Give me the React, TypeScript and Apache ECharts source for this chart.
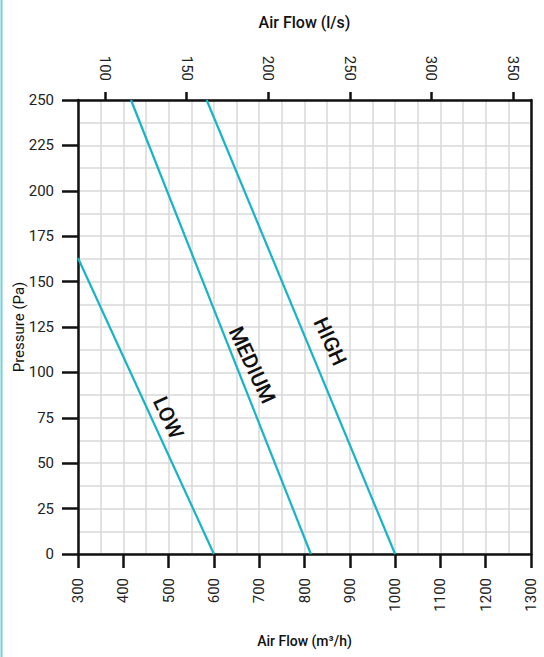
import React, { useEffect, useRef } from "react";
import * as echarts from "echarts";

const lowCurve: [number, number][] = [
  [300, 163],
  [600, 0],
];
const mediumCurve: [number, number][] = [
  [417, 250],
  [814, 0],
];
const highCurve: [number, number][] = [
  [584, 250],
  [1000, 0],
];
const curveLabels = [
  { name: "LOW", coord: [499, 75] },
  { name: "MEDIUM", coord: [684, 104] },
  { name: "HIGH", coord: [856, 117] },
];
const topTicksLs = [100, 150, 200, 250, 300, 350];
const M3H_PER_LS = 3.6;

const LINE_COLOR = "#17b3c6";
const FONT = "Roboto, 'Noto Sans', sans-serif";

export default function App() {
  const ref = useRef<HTMLDivElement>(null);
  useEffect(() => {
    if (!ref.current) return;
    const chart = echarts.init(ref.current, undefined, { renderer: "svg" });
    const mkSeries = (name: string, data: [number, number][], idx: number) => ({
      type: "line",
      name,
      data,
      xAxisIndex: 0,
      yAxisIndex: 0,
      symbol: "none",
      z: 10,
      lineStyle: { color: LINE_COLOR, width: 2.2 },
      markPoint: {
        symbol: "circle",
        symbolSize: 1,
        silent: true,
        itemStyle: { color: "rgba(0,0,0,0)" },
        label: {
          show: true,
          formatter: curveLabels[idx].name,
          rotate: -65,
          color: "#111",
          fontSize: 21,
          fontWeight: 500,
          fontFamily: FONT,
          position: "inside",
        },
        data: [
          {
            name: curveLabels[idx].name,
            coord: curveLabels[idx].coord,
            value: 1,
          },
        ],
      },
    });
    const numFmt = (v: number) => String(Math.round(v));
    chart.setOption({
      animation: false,
      textStyle: { fontFamily: FONT },
      graphic: [
        {
          type: "line",
          shape: { x1: 1.5, y1: 0, x2: 1.5, y2: 657 },
          style: { stroke: "#6fd0e0", lineWidth: 2 },
        },
      ],
      grid: {
        left: 78,
        right: 13,
        top: 100,
        bottom: 103,
        show: false,
        containLabel: false,
        outerBoundsMode: "none",
      },
      xAxis: [
        {
          type: "value",
          position: "bottom",
          min: 300,
          max: 1300,
          interval: 100,
          name: "Air Flow (m³/h)",
          nameLocation: "middle",
          nameGap: 80,
          nameTextStyle: { fontSize: 14, color: "#111", fontFamily: FONT, fontWeight: 500 },
          axisLine: { show: true, onZero: false, lineStyle: { color: "#111", width: 2.5 } },
          axisTick: { show: true, inside: false, length: 14, lineStyle: { color: "#111", width: 2.5 } },
          axisLabel: { rotate: 90, fontSize: 15, color: "#222", margin: 24, fontFamily: FONT, formatter: numFmt },
          splitLine: { show: true, lineStyle: { color: "#d9d9d9", width: 1.5 } },
          minorTick: { show: false, splitNumber: 2 },
          minorSplitLine: { show: true, lineStyle: { color: "#d9d9d9", width: 1.5 } },
        },
        {
          type: "value",
          position: "top",
          min: 300 / M3H_PER_LS,
          max: 1300 / M3H_PER_LS,
          name: "Air Flow (l/s)",
          nameLocation: "middle",
          nameGap: 70,
          nameTextStyle: { fontSize: 16, color: "#111", fontFamily: FONT, fontWeight: 500 },
          axisLine: { show: true, onZero: false, lineStyle: { color: "#111", width: 2.5 } },
          axisTick: {
            show: true,
            inside: false,
            length: 8,
            customValues: topTicksLs,
            lineStyle: { color: "#111", width: 2.5 },
          },
          axisLabel: {
            rotate: 90,
            fontSize: 15,
            color: "#222",
            margin: 19,
            customValues: topTicksLs,
            fontFamily: FONT,
            formatter: numFmt,
          },
          splitLine: { show: false },
        },
      ],
      yAxis: [
        {
          type: "value",
          position: "left",
          min: 0,
          max: 250,
          interval: 25,
          name: "Pressure (Pa)",
          nameLocation: "middle",
          nameGap: 52,
          nameMoveOverlap: false,
          nameRotate: 90,
          nameTextStyle: { fontSize: 15, color: "#111", fontFamily: FONT },
          axisLine: { show: true, onZero: false, lineStyle: { color: "#111", width: 2.5 } },
          axisTick: { show: true, inside: false, length: 16, lineStyle: { color: "#111", width: 2.5 } },
          axisLabel: { fontSize: 15, color: "#222", margin: 24, fontFamily: FONT },
          splitLine: { show: true, lineStyle: { color: "#d9d9d9", width: 1.5 } },
          minorTick: { show: false, splitNumber: 2 },
          minorSplitLine: { show: true, lineStyle: { color: "#d9d9d9", width: 1.5 } },
        },
        {
          type: "value",
          position: "right",
          min: 0,
          max: 250,
          interval: 25,
          axisLine: { show: true, onZero: false, lineStyle: { color: "#111", width: 2.5 } },
          axisTick: { show: false },
          axisLabel: { show: false },
          splitLine: { show: false },
        },
      ],
      series: [
        mkSeries("LOW", lowCurve, 0),
        mkSeries("MEDIUM", mediumCurve, 1),
        mkSeries("HIGH", highCurve, 2),
      ],
    });
    return () => chart.dispose();
  }, []);
  return (
    <div
      ref={ref}
      style={{ position: "fixed", left: 0, top: 0, width: 544, height: 657, background: "#fff" }}
    />
  );
}
